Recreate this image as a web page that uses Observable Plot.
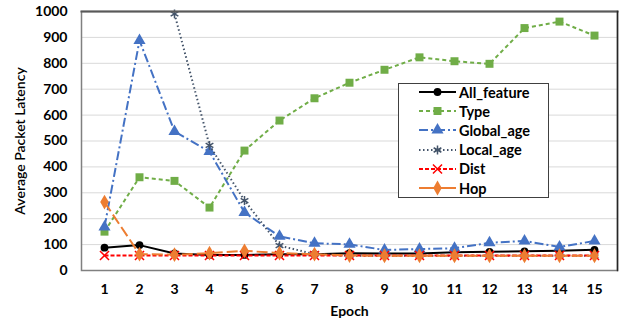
<!DOCTYPE html>
<html><head><meta charset="utf-8">
<script src="https://cdn.jsdelivr.net/npm/d3@7"></script>
<script src="https://cdn.jsdelivr.net/npm/@observablehq/plot@0.6"></script>
<style>
body{margin:0;background:#fff;}
#wrap{position:relative;width:628px;height:322px;font-family:Lato,"Liberation Sans",sans-serif;}
#legend{position:absolute;left:398px;top:83px;width:151px;height:115px;border:1px solid #404040;background:#fff;box-sizing:border-box;}
.row{position:absolute;left:0;height:20px;display:flex;align-items:center;font:bold 14.5px Lato,sans-serif;color:#000;}
.row svg{margin-left:20px;margin-right:3px;}
</style></head>
<body><div id="wrap"><div id="legend"></div></div>
<script>
const epochs = [1,2,3,4,5,6,7,8,9,10,11,12,13,14,15];
const allFeature = [88, 98, 66, 60, 60, 63, 63, 67, 66, 66, 70, 72, 74, 76, 80];
const typeS = [150, 360, 346, 243, 463, 579, 665, 725, 775, 823, 808, 798, 936, 961, 907];
const globalAge = [168, 888, 537, 459, 224, 132, 105, 101, 79, 83, 86, 107, 114, 91, 114];
const localAge = [null, null, 991, 483, 270, 96, 63, 57, 57, 57, 57, 57, 57, 57, 57];
const dist = [58, 58, 58, 58, 58, 58, 58, 58, 58, 58, 58, 58, 58, 58, 58];
const hop = [264, 63, 61, 67, 76, 67, 63, 58, 57, 57, 57, 57, 57, 57, 57];
const yTicks = [0,100,200,300,400,500,600,700,800,900,1000];

const series = [
  {name:"All_feature", values:allFeature, color:"#000000", dash:null, symbol:"circle", r:3.9, filled:true},
  {name:"Type", values:typeS, color:"#70AD47", dash:"4,3", symbol:"square", r:4.5, filled:true},
  {name:"Global_age", values:globalAge, color:"#4472C4", dash:"9,3,2,3", symbol:"triangle", r:4.5, filled:true},
  {name:"Local_age", values:localAge, color:"#44546A", dash:"1.5,2.5", symbol:"asterisk", r:4.2, filled:false},
  {name:"Dist", values:dist, color:"#FF0000", dash:"4,2", symbol:"times", r:4.2, filled:false},
  {name:"Hop", values:hop, color:"#ED7D31", dash:"11,4", symbol:"diamond", r:4.5, filled:true}
];

const marks = [
  Plot.gridY(yTicks, {stroke:"#d9d9d9", strokeOpacity:1, strokeWidth:1}),
  Plot.axisY(yTicks, {tickSize:0, tickPadding:14, tickFormat:d3.format("d"), label:"Average Packet Latency", labelAnchor:"center", labelOffset:66, labelArrow:"none"}),
  Plot.axisX(epochs, {tickSize:0, tickPadding:14, label:"Epoch", labelAnchor:"center", labelOffset:45, labelArrow:"none"})
];
for (const s of series) {
  const data = epochs.map((e,i)=>({x:e, y:s.values[i]})).filter(d=>d.y!=null);
  marks.push(Plot.line(data, {x:"x", y:"y", stroke:s.color, strokeWidth:2, strokeDasharray:s.dash||undefined, strokeLinecap:"butt"}));
  marks.push(Plot.dot(data, {x:"x", y:"y", symbol:s.symbol, r:s.r, fill:s.filled?s.color:"none", stroke:s.color, strokeWidth:s.filled?0:1.5}));
}
marks.push(Plot.frame({stroke:"#808080", strokeWidth:1.5}));
marks.push(Plot.frame({anchor:"top", stroke:"#595959", strokeWidth:2}));
marks.push(Plot.frame({anchor:"right", stroke:"#262626", strokeWidth:1.5}));

const chart = Plot.plot({
  width:628, height:322,
  marginLeft:81, marginRight:11, marginTop:11, marginBottom:52,
  x:{type:"point", domain:epochs, padding:0.5},
  y:{domain:[0,1000]},
  style:{fontFamily:"Lato, sans-serif", fontSize:"14px", fontWeight:"bold", background:"#fff", color:"#000"},
  marks
});
document.getElementById("wrap").prepend(chart);
d3.select(chart).selectAll('[aria-label="y-axis label"] text').style("font-weight","600").style("font-size","14px");
d3.select(chart).selectAll('[aria-label="x-axis label"] text').style("font-size","14px");

// legend
const leg = d3.select("#legend");
series.forEach((s,i)=>{
  const row = leg.append("div").attr("class","row").style("top",(i*19.2-2)+"px");
  const svg = row.append("svg").attr("width",37).attr("height",20);
  svg.append("line").attr("x1",0).attr("x2",37).attr("y1",10).attr("y2",10)
     .attr("stroke",s.color).attr("stroke-width",2).attr("stroke-dasharray", s.name==="Hop"?null:s.dash);
  const sym = {circle:d3.symbolCircle, square:d3.symbolSquare, triangle:d3.symbolTriangle, asterisk:d3.symbolAsterisk, times:d3.symbolTimes, diamond:d3.symbolDiamond}[s.symbol];
  svg.append("path").attr("transform","translate(18.5,10)").attr("d", d3.symbol(sym, Math.PI*s.r*s.r)())
     .attr("fill", s.filled?s.color:"none").attr("stroke", s.filled?"none":s.color).attr("stroke-width",1.5);
  row.append("span").text(s.name);
});
</script></body></html>
